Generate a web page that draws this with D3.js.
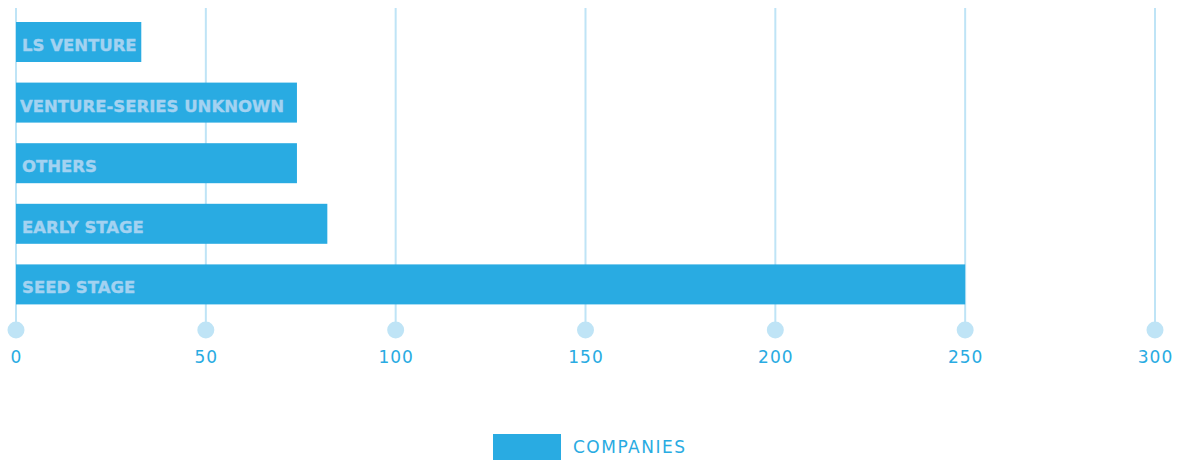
<!DOCTYPE html>
<html>
<head>
<meta charset="utf-8">
<script src="https://cdn.jsdelivr.net/npm/d3@7"></script>
<style>
    body { margin: 0; background: #fff; }
    svg { display: block; }
</style>
</head>
<body>
<svg id="chart" width="1179" height="460"></svg>
<script>
// Funding stages, top to bottom
const categories = ["LS VENTURE", "VENTURE-SERIES UNKNOWN", "OTHERS", "EARLY STAGE", "SEED STAGE"];
const companies = [33, 74, 74, 82, 250];
const tickValues = [0, 50, 100, 150, 200, 250, 300];
const seriesName = "COMPANIES";

const barColor = "#29abe2";
const gridColor = "#bfe4f6";
const labelColor = "#a3d2f1";
const font = "'DejaVu Sans', sans-serif";

let svg = d3.select("#chart");

let scale = {
    x: d3.scaleLinear()
        .domain([0, 300])
        .range([16, 1155]),
    y: d3.scaleBand()
        .domain(categories)
        .range([11.7, 314.7])
        .paddingInner(0.34)
        .paddingOuter(0.17)
};

// vertical grid lines with a dot at the bottom of each
let grid = svg.append("g").attr("class", "grid");

grid.selectAll("line")
    .data(tickValues)
    .enter()
    .append("line")
    .attr("x1", d => scale.x(d))
    .attr("x2", d => scale.x(d))
    .attr("y1", 8)
    .attr("y2", 330)
    .attr("stroke", gridColor)
    .attr("stroke-width", 2);

grid.selectAll("circle")
    .data(tickValues)
    .enter()
    .append("circle")
    .attr("cx", d => scale.x(d))
    .attr("cy", 330)
    .attr("r", 8.5)
    .attr("fill", gridColor);

// axis labels
let axis = d3.axisBottom(scale.x)
    .tickValues(tickValues)
    .tickSize(0)
    .tickPadding(0);

let axisGroup = svg.append("g")
    .attr("class", "axis axis--x")
    .attr("transform", "translate(0, 351)")
    .call(axis);

axisGroup.select(".domain").remove();
axisGroup.selectAll("text")
    .attr("fill", barColor)
    .style("font-family", font)
    .style("font-size", "17px")
    .style("letter-spacing", "1px");

// bars
let bars = svg.append("g").attr("class", "bars");

bars.selectAll("rect")
    .data(categories)
    .enter()
    .append("rect")
    .attr("x", scale.x(0))
    .attr("y", d => scale.y(d))
    .attr("width", (d, i) => scale.x(companies[i]) - scale.x(0))
    .attr("height", scale.y.bandwidth())
    .attr("fill", barColor);

bars.selectAll("text")
    .data(categories)
    .enter()
    .append("text")
    .attr("x", (d, i) => i == 1 ? 20 : 22)
    .attr("y", d => scale.y(d) + scale.y.bandwidth() / 2 + 3)
    .attr("dy", "0.36em")
    .attr("fill", labelColor)
    .attr("stroke", labelColor)
    .attr("stroke-width", 0.4)
    .style("font-family", font)
    .style("font-weight", "bold")
    .style("font-size", "16.5px")
    .text(d => d);

// legend
let legend = svg.append("g")
    .attr("class", "legend")
    .attr("transform", "translate(493, 434)");

legend.append("rect")
    .attr("width", 68)
    .attr("height", 26)
    .attr("fill", barColor);

legend.append("text")
    .attr("x", 80)
    .attr("y", 13)
    .attr("dy", "0.36em")
    .attr("fill", barColor)
    .style("font-family", font)
    .style("font-size", "17px")
    .style("letter-spacing", "1.5px")
    .text(seriesName);
</script>
</body>
</html>
